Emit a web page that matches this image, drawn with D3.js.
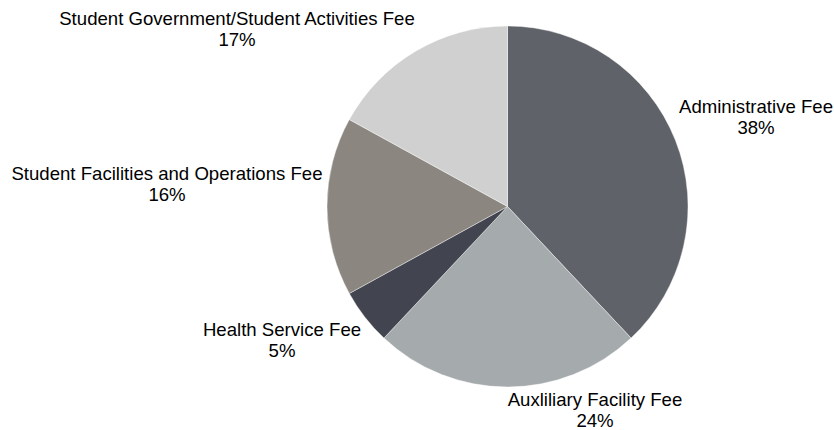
<!DOCTYPE html>
<html>
<head>
<meta charset="utf-8">
<script src="https://cdn.jsdelivr.net/npm/d3@7"></script>
<style>
  body { margin: 0; background: #fff; }
  text { font-family: "Liberation Sans", Arial, sans-serif; fill: #000; }
</style>
</head>
<body>
<div id="chart"></div>
<script>
// data
var categories = ["Administrative Fee", "Auxliliary Facility Fee", "Health Service Fee",
                  "Student Facilities and Operations Fee", "Student Government/Student Activities Fee"];
var shares = [38, 24, 5, 16, 17];
var colors = ["#5f6269", "#a5aaad", "#424550", "#8c8680", "#d0d0d0"];

var width = 834, height = 430;
var cx = 507.5, cy = 206.5, radius = 180.5;

// label anchor (center of first line baseline) for each slice, Excel style best-fit
var labelPos = [[756, 113], [595, 406], [282, 336], [167, 180], [237, 25]];
var lineGap = 21;

var svg = d3.select("#chart").append("svg")
    .attr("width", width)
    .attr("height", height);

var pie = d3.pie().sort(null).value(function(d) { return d; });
var arc = d3.arc().innerRadius(0).outerRadius(radius);

var arcs = pie(shares);

var g = svg.append("g")
    .attr("transform", "translate(" + cx + "," + cy + ")");

g.selectAll("path")
  .data(arcs)
  .enter().append("path")
    .attr("d", arc)
    .attr("fill", function(d, i) { return colors[i]; })
    .attr("stroke", "#fff")
    .attr("stroke-width", 0.4);

var labels = svg.selectAll(".lbl")
  .data(arcs)
  .enter().append("text")
    .attr("class", "lbl")
    .attr("text-anchor", "middle")
    .style("font-size", "18.6px");

labels.append("tspan")
    .attr("x", function(d, i) { return labelPos[i][0]; })
    .attr("y", function(d, i) { return labelPos[i][1]; })
    .text(function(d, i) { return categories[i]; });

labels.append("tspan")
    .attr("x", function(d, i) { return labelPos[i][0]; })
    .attr("y", function(d, i) { return labelPos[i][1] + lineGap; })
    .text(function(d, i) { return shares[i] + "%"; });
</script>
</body>
</html>
